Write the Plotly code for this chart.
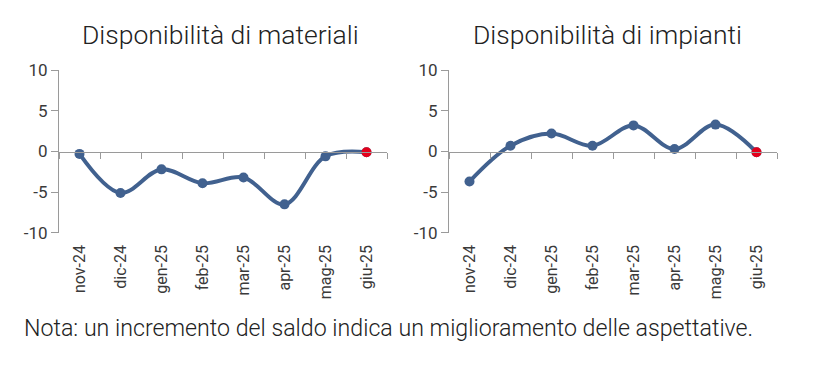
import plotly.graph_objects as go

categories = ["nov-24", "dic-24", "gen-25", "feb-25", "mar-25", "apr-25", "mag-25", "giu-25"]
materiali = [-0.3, -5.1, -2.2, -3.9, -3.2, -6.5, -0.6, -0.1]
impianti = [-3.7, 0.7, 2.2, 0.7, 3.2, 0.3, 3.3, -0.1]
titles = ["Disponibilità di materiali", "Disponibilità di impianti"]
note = "Nota: un incremento del saldo indica un miglioramento delle aspettative."
y_ticks = [-10, -5, 0, 5, 10]

W, H = 825, 374
OFF = 8  # page body margin offset
BLUE = "#41618f"
RED = "#e3001b"
AX = "#9a9a9a"
TXT = "#3a3a3a"
FONT = "Roboto"


def px_x(p):
    return (p - OFF) / W


def px_y(p):
    return 1 - (p - OFF) / H


fig = go.Figure()

x_domains = [[px_x(59), px_x(387)], [px_x(449), px_x(777)]]
y_dom = [px_y(235), px_y(63)]
zero_pos = px_y(149.3)

series = [materiali, impianti]
for i, vals in enumerate(series):
    n = i + 1
    xa = "x" if n == 1 else f"x{n}"
    ya = "y" if n == 1 else f"y{n}"
    fig.add_trace(go.Scatter(
        x=categories, y=vals, xaxis=xa, yaxis=ya,
        mode="lines+markers",
        line=dict(color=BLUE, width=4, shape="spline", smoothing=1.0),
        marker=dict(color=BLUE, size=10),
        showlegend=False, hoverinfo="skip",
    ))
    fig.add_trace(go.Scatter(
        x=[categories[-1]], y=[vals[-1]], xaxis=xa, yaxis=ya,
        mode="markers", marker=dict(color=RED, size=10),
        showlegend=False, hoverinfo="skip",
    ))

layout = dict(
    width=W, height=H,
    margin=dict(l=0, r=0, t=0, b=0),
    paper_bgcolor="white", plot_bgcolor="white",
    font=dict(family=FONT, color=TXT),
)

for i in range(2):
    n = i + 1
    xk = "xaxis" if n == 1 else f"xaxis{n}"
    yk = "yaxis" if n == 1 else f"yaxis{n}"
    xname = "x" if n == 1 else f"x{n}"
    yname = "y" if n == 1 else f"y{n}"
    layout[xk] = dict(
        domain=x_domains[i], anchor=yname, type="category",
        categoryorder="array", categoryarray=categories,
        range=[-0.5, len(categories) - 0.5],
        showline=False, showgrid=False, zeroline=False, ticks="",
        tickangle=-90, tickfont=dict(size=16, color=TXT, family=FONT),
        ticklabelstandoff=8,
    )
    layout[yk] = dict(
        domain=y_dom, anchor=xname, range=[-10, 10],
        tickvals=y_ticks, ticktext=[str(v) for v in y_ticks],
        showline=True, linecolor=AX, linewidth=1,
        ticks="outside", ticklen=7, tickcolor=AX,
        showgrid=False, zeroline=False,
        tickfont=dict(size=17, color=TXT, family=FONT),
    )
    zk = f"xaxis{n + 2}"
    layout[zk] = dict(
        domain=x_domains[i], overlaying=xname, anchor="free", position=zero_pos,
        type="category", categoryorder="array", categoryarray=categories,
        range=[-0.5, len(categories) - 0.5],
        showline=True, linecolor=AX, linewidth=1,
        ticks="outside", ticklen=6, tickcolor=AX, tickson="boundaries",
        showticklabels=False, showgrid=False, zeroline=False,
    )

fig.update_layout(**layout)

for i in range(2):
    fig.add_trace(go.Scatter(
        x=categories, y=[None] * len(categories), xaxis=f"x{i + 3}",
        yaxis="y" if i == 0 else "y2", showlegend=False, hoverinfo="skip",
        mode="lines",
    ))

title_centers = [220, 607]
for i, t in enumerate(titles):
    fig.add_annotation(
        text=t, x=px_x(title_centers[i]), y=px_y(25), xref="paper", yref="paper",
        xanchor="center", yanchor="middle", showarrow=False,
        font=dict(size=26.5, color="#222222", family=FONT, weight=300),
    )

fig.add_annotation(
    text=note, x=px_x(22), y=px_y(336), xref="paper", yref="paper",
    xanchor="left", yanchor="middle", showarrow=False,
    font=dict(size=23.2, color="#222222", family=FONT, weight=300),
)

fig.write_html("out.html")
